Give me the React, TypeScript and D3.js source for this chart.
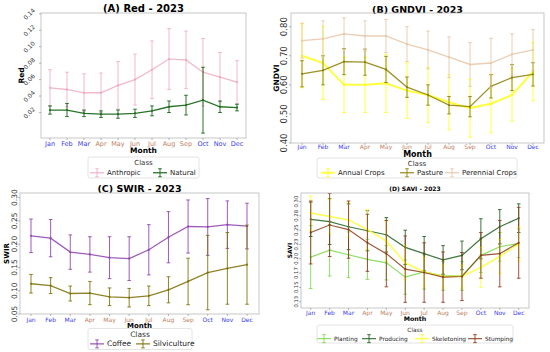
import React from "react";
import * as d3 from "d3";

const months = ["Jan", "Feb", "Mar", "Apr", "May", "Jun", "Jul", "Aug", "Sep", "Oct", "Nov", "Dec"];
const dryMonths = ["Apr", "May", "Jun", "Jul", "Aug", "Sep"];

// (A) Red
const anthropicMean = [0.05, 0.048, 0.044, 0.044, 0.053, 0.06, 0.072, 0.085, 0.084, 0.069, 0.063, 0.057];
const anthropicStd = [0.022, 0.021, 0.023, 0.024, 0.029, 0.031, 0.035, 0.037, 0.035, 0.041, 0.03, 0.026];
const naturalMean = [0.023, 0.023, 0.019, 0.018, 0.018, 0.019, 0.022, 0.027, 0.029, 0.035, 0.027, 0.026];
const naturalStd = [0.005, 0.008, 0.004, 0.004, 0.005, 0.005, 0.006, 0.007, 0.012, 0.04, 0.007, 0.004];
const redTicks = [0.02, 0.04, 0.06, 0.08, 0.1, 0.12, 0.14];

// (B) GNDVI
const annualMean = [0.7, 0.675, 0.6, 0.6, 0.605, 0.58, 0.565, 0.54, 0.52, 0.535, 0.565, 0.645];
const annualStd = [0.11, 0.125, 0.095, 0.095, 0.1, 0.095, 0.095, 0.095, 0.1, 0.1, 0.09, 0.1];
const pastureMean = [0.638, 0.65, 0.68, 0.678, 0.653, 0.592, 0.565, 0.53, 0.525, 0.595, 0.625, 0.636];
const pastureStd = [0.045, 0.05, 0.045, 0.045, 0.045, 0.035, 0.035, 0.03, 0.035, 0.04, 0.045, 0.04];
const perennialMean = [0.752, 0.758, 0.775, 0.768, 0.768, 0.74, 0.72, 0.695, 0.67, 0.675, 0.705, 0.72];
const perennialStd = [0.06, 0.062, 0.055, 0.052, 0.057, 0.06, 0.065, 0.07, 0.075, 0.085, 0.07, 0.07];
const gndviTicks = [0.4, 0.5, 0.6, 0.7, 0.8];

// (C) SWIR
const coffeeMean = [0.218, 0.213, 0.183, 0.178, 0.171, 0.169, 0.188, 0.215, 0.238, 0.237, 0.242, 0.239];
const coffeeStd = [0.036, 0.04, 0.037, 0.038, 0.045, 0.047, 0.054, 0.055, 0.057, 0.061, 0.051, 0.049];
const silviMean = [0.115, 0.111, 0.094, 0.095, 0.087, 0.085, 0.089, 0.102, 0.12, 0.139, 0.148, 0.156];
const silviStd = [0.02, 0.017, 0.016, 0.025, 0.019, 0.02, 0.021, 0.028, 0.05, 0.08, 0.077, 0.085];
const swirTicks = [0.05, 0.1, 0.15, 0.2, 0.25, 0.3];

// (D) SAVI
const plantingMean = [0.203, 0.215, 0.207, 0.199, 0.193, 0.168, 0.177, 0.17, 0.17, 0.206, 0.221, 0.227];
const plantingStd = [0.055, 0.045, 0.04, 0.035, 0.03, 0.03, 0.03, 0.025, 0.025, 0.03, 0.025, 0.025];
const producingMean = [0.269, 0.265, 0.256, 0.249, 0.242, 0.22, 0.209, 0.198, 0.206, 0.235, 0.256, 0.271];
const producingStd = [0.03, 0.04, 0.04, 0.035, 0.03, 0.03, 0.03, 0.025, 0.025, 0.035, 0.03, 0.025];
const skeletonMean = [0.28, 0.274, 0.268, 0.251, 0.231, 0.193, 0.177, 0.169, 0.169, 0.185, 0.204, 0.226];
const skeletonStd = [0.03, 0.03, 0.03, 0.035, 0.035, 0.03, 0.025, 0.02, 0.02, 0.035, 0.03, 0.03];
const stumpingMean = [0.246, 0.259, 0.251, 0.228, 0.209, 0.182, 0.176, 0.168, 0.169, 0.206, 0.209, 0.228];
const stumpingStd = [0.055, 0.055, 0.05, 0.05, 0.058, 0.058, 0.052, 0.044, 0.042, 0.04, 0.058, 0.062];
const saviTicks = [0.125, 0.15, 0.175, 0.2, 0.225, 0.25, 0.275, 0.3];

const FONT = "DejaVu Sans, sans-serif";
const BLUE = "#3b3bf0";
const DRY = "#c08060";

type Series = { name: string; mean: number[]; std: number[]; color: string; width: number; opacity: number };
type Cfg = {
  title: string; titleSize: number; titleY: number;
  yLabel: string; yLabelX: number; yLabelSize: number;
  left: number; right: number; top: number; bottom: number;
  jan: number; dec: number;
  yDomain: [number, number]; ticks: number[]; tickFmt: (v: number) => string;
  tickSize: number; tickRot: number; tickDx: number;
  xTickSize: number; xTickY: number; monthY: number; monthSize: number;
  series: Series[];
  legend: { x: number; y: number; w: number; h: number; size: number; entries: number[] };
};

const fmt2 = d3.format(".2f");

const panels: Cfg[] = [
  {
    title: "(A) Red - 2023", titleSize: 10, titleY: 8,
    yLabel: "Red", yLabelX: 21, yLabelSize: 7.5,
    left: 41, right: 246, top: 13, bottom: 138, jan: 50, dec: 237,
    yDomain: [-0.011, 0.141], ticks: redTicks, tickFmt: fmt2, tickSize: 6, tickRot: -45, tickDx: 12,
    xTickSize: 6.5, xTickY: 143.5, monthY: 150.5, monthSize: 7.5,
    series: [
      { name: "Anthropic", mean: anthropicMean, std: anthropicStd, color: "#eea0bc", width: 1.3, opacity: 0.75 },
      { name: "Natural", mean: naturalMean, std: naturalStd, color: "#1d6b1d", width: 1.3, opacity: 0.95 },
    ],
    legend: { x: 88, y: 157, w: 111, h: 21, size: 7, entries: [97, 160] },
  },
  {
    title: "(B) GNDVI - 2023", titleSize: 9.5, titleY: 9,
    yLabel: "GNDVI", yLabelX: 276, yLabelSize: 7.5,
    left: 291, right: 544, top: 13, bottom: 143, jan: 302, dec: 533,
    yDomain: [0.4, 0.847], ticks: gndviTicks, tickFmt: fmt2, tickSize: 8.5, tickRot: -90, tickDx: 7,
    xTickSize: 6, xTickY: 146.8, monthY: 154.5, monthSize: 8,
    series: [
      { name: "Annual Crops", mean: annualMean, std: annualStd, color: "#ffff20", width: 2, opacity: 0.85 },
      { name: "Pasture", mean: pastureMean, std: pastureStd, color: "#8c7d00", width: 1.3, opacity: 0.85 },
      { name: "Perennial Crops", mean: perennialMean, std: perennialStd, color: "#e8c6a6", width: 1.3, opacity: 0.85 },
    ],
    legend: { x: 317, y: 158, w: 200, h: 20, size: 7, entries: [328, 407, 452] },
  },
  {
    title: "(C) SWIR - 2023", titleSize: 9.5, titleY: 188,
    yLabel: "SWIR", yLabelX: 7, yLabelSize: 7,
    left: 20, right: 259, top: 193, bottom: 314, jan: 31, dec: 247,
    yDomain: [0.05, 0.31], ticks: swirTicks, tickFmt: fmt2, tickSize: 7.5, tickRot: -90, tickDx: 6,
    xTickSize: 6, xTickY: 319, monthY: 326, monthSize: 7,
    series: [
      { name: "Coffee", mean: coffeeMean, std: coffeeStd, color: "#8e3fae", width: 1.3, opacity: 0.85 },
      { name: "Silviculture", mean: silviMean, std: silviStd, color: "#7d6d00", width: 1.3, opacity: 0.85 },
    ],
    legend: { x: 88, y: 328.5, w: 104, h: 21, size: 7.5, entries: [97, 143] },
  },
  {
    title: "(D) SAVI - 2023", titleSize: 6, titleY: 188,
    yLabel: "SAVI", yLabelX: 289, yLabelSize: 6,
    left: 301, right: 529, top: 193, bottom: 308, jan: 310.7, dec: 518.7,
    yDomain: [0.114, 0.315], ticks: saviTicks, tickFmt: fmt2, tickSize: 5.3, tickRot: -90, tickDx: 5,
    xTickSize: 6, xTickY: 312.3, monthY: 318.8, monthSize: 6.3,
    series: [
      { name: "Planting", mean: plantingMean, std: plantingStd, color: "#7ad84a", width: 1.2, opacity: 0.85 },
      { name: "Producing", mean: producingMean, std: producingStd, color: "#1f5f1f", width: 1.2, opacity: 0.85 },
      { name: "Skeletoning", mean: skeletonMean, std: skeletonStd, color: "#ffff30", width: 1.5, opacity: 0.85 },
      { name: "Stumping", mean: stumpingMean, std: stumpingStd, color: "#8b3a1a", width: 1.2, opacity: 0.85 },
    ],
    legend: { x: 317, y: 325, w: 196, h: 18, size: 5.8, entries: [324, 369, 422, 475] },
  },
];

function Panel({ cfg, idx }: { cfg: Cfg; idx: number }) {
  const x = d3.scalePoint<string>().domain(months).range([cfg.jan, cfg.dec]);
  const y = d3.scaleLinear().domain(cfg.yDomain).range([cfg.bottom, cfg.top]);
  const line = d3
    .line<number>()
    .x((_, i) => x(months[i]) ?? 0)
    .y((d) => y(d));
  const cx = (cfg.left + cfg.right) / 2;
  const cy = (cfg.top + cfg.bottom) / 2;
  const clipId = `clip${idx}`;
  const cap = 1.8;
  const lg = cfg.legend;
  return (
    <g fontFamily={FONT}>
      <defs>
        <clipPath id={clipId}>
          <rect x={cfg.left} y={cfg.top} width={cfg.right - cfg.left} height={cfg.bottom - cfg.top} />
        </clipPath>
      </defs>
      <text x={cx} y={cfg.titleY} fontSize={cfg.titleSize} fontWeight="bold" textAnchor="middle" dominantBaseline="central">
        {cfg.title}
      </text>
      <g clipPath={`url(#${clipId})`}>
        {cfg.series.map((s) => (
          <g key={s.name} stroke={s.color} strokeOpacity={s.opacity} fill="none">
            {s.mean.map((m, i) => {
              const px = x(months[i]) ?? 0;
              const y1 = y(m - s.std[i]);
              const y2 = y(m + s.std[i]);
              return (
                <g key={i} strokeWidth={1}>
                  <line x1={px} x2={px} y1={y1} y2={y2} />
                  <line x1={px - cap} x2={px + cap} y1={y1} y2={y1} />
                  <line x1={px - cap} x2={px + cap} y1={y2} y2={y2} />
                </g>
              );
            })}
            <path d={line(s.mean) ?? ""} strokeWidth={s.width} />
            {s.mean.map((m, i) => (
              <circle key={i} cx={x(months[i]) ?? 0} cy={y(m)} r={1.1} fill={s.color} stroke="none" fillOpacity={s.opacity} />
            ))}
          </g>
        ))}
      </g>
      <rect x={cfg.left} y={cfg.top} width={cfg.right - cfg.left} height={cfg.bottom - cfg.top} fill="none" stroke="#b8b8b8" strokeWidth={0.8} />
      {cfg.ticks.map((t) => (
        <g key={t}>
          <line x1={cfg.left - 2} x2={cfg.left} y1={y(t)} y2={y(t)} stroke="#888" strokeWidth={0.6} />
          <text
            transform={`translate(${cfg.left - cfg.tickDx},${y(t)}) rotate(${cfg.tickRot})`}
            fontSize={cfg.tickSize}
            fill="#333"
            textAnchor="middle"
            dominantBaseline="central"
          >
            {cfg.tickFmt(t)}
          </text>
        </g>
      ))}
      {months.map((m) => (
        <g key={m}>
          <line x1={x(m)} x2={x(m)} y1={cfg.bottom} y2={cfg.bottom + 2} stroke="#888" strokeWidth={0.6} />
          <text
            x={x(m)}
            y={cfg.xTickY}
            fontSize={cfg.xTickSize}
            fill={dryMonths.includes(m) ? DRY : BLUE}
            textAnchor="middle"
            dominantBaseline="central"
          >
            {m}
          </text>
        </g>
      ))}
      <text x={cx} y={cfg.monthY} fontSize={cfg.monthSize} fontWeight="bold" textAnchor="middle" dominantBaseline="central">
        Month
      </text>
      <text
        transform={`translate(${cfg.yLabelX},${cy}) rotate(-90)`}
        fontSize={cfg.yLabelSize}
        fontWeight="bold"
        textAnchor="middle"
        dominantBaseline="central"
      >
        {cfg.yLabel}
      </text>
      <rect x={lg.x} y={lg.y} width={lg.w} height={lg.h} rx={2} fill="white" stroke="#dddddd" strokeWidth={0.8} />
      <text x={lg.x + lg.w / 2} y={lg.y + lg.size * 0.85} fontSize={lg.size} fill="#333" textAnchor="middle" dominantBaseline="central">
        Class
      </text>
      {cfg.series.map((s, i) => {
        const ex = lg.entries[i];
        const ey = lg.y + lg.h - lg.size * 0.75;
        return (
          <g key={s.name}>
            <g stroke={s.color} strokeOpacity={s.opacity}>
              <line x1={ex - 7} x2={ex + 7} y1={ey} y2={ey} strokeWidth={s.width} />
              <line x1={ex} x2={ex} y1={ey - 4} y2={ey + 4} strokeWidth={1} />
              <line x1={ex - cap} x2={ex + cap} y1={ey - 4} y2={ey - 4} strokeWidth={1} />
              <line x1={ex - cap} x2={ex + cap} y1={ey + 4} y2={ey + 4} strokeWidth={1} />
            </g>
            <text x={ex + 10} y={ey} fontSize={lg.size} fill="#222" dominantBaseline="central">
              {s.name}
            </text>
          </g>
        );
      })}
    </g>
  );
}

export default function App() {
  return (
    <svg width={550} height={352} style={{ position: "absolute", left: 0, top: 0, background: "white" }}>
      {panels.map((p, i) => (
        <Panel key={p.title} cfg={p} idx={i} />
      ))}
    </svg>
  );
}
